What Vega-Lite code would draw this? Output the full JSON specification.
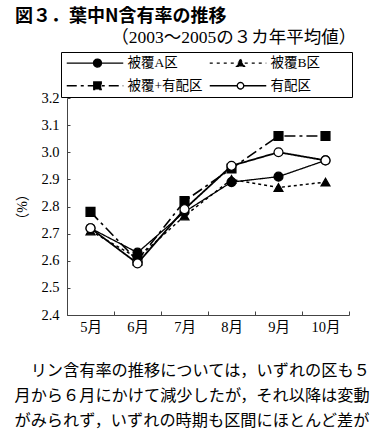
{
  "$schema": "https://vega.github.io/schema/vega-lite/v6.json",
  "width": 282,
  "height": 217,
  "autosize": {"type": "none"},
  "padding": {"left": 67, "top": 98, "right": 36, "bottom": 124},
  "background": "white",
  "title": {
    "text": "図３．葉中N含有率の推移",
    "subtitle": "\u200b　　　　　　（2003～2005の３カ年平均値）",
    "anchor": "start",
    "frame": "group",
    "orient": "top",
    "dx": -52,
    "dy": -1,
    "font": "Noto Sans CJK JP",
    "fontSize": 18,
    "fontWeight": "bold",
    "color": "black",
    "subtitleFont": "Liberation Serif, Noto Sans CJK JP",
    "subtitleFontSize": 17.5,
    "subtitleColor": "black",
    "subtitlePadding": 3
  },
  "config": {
    "view": {"stroke": null},
    "axis": {
      "grid": false,
      "domainColor": "#444",
      "domainWidth": 1,
      "tickColor": "#444",
      "tickWidth": 1,
      "labelFont": "Liberation Serif, Noto Sans CJK JP",
      "labelFontSize": 14.5,
      "labelColor": "black",
      "titleColor": "black"
    }
  },
  "data": {
    "values": [
      {"month": "5月", "series": "被覆A区", "value": 2.72},
      {"month": "6月", "series": "被覆A区", "value": 2.63},
      {"month": "7月", "series": "被覆A区", "value": 2.78},
      {"month": "8月", "series": "被覆A区", "value": 2.89},
      {"month": "9月", "series": "被覆A区", "value": 2.91},
      {"month": "10月", "series": "被覆A区", "value": 2.97},
      {"month": "5月", "series": "被覆B区", "value": 2.71},
      {"month": "6月", "series": "被覆B区", "value": 2.61},
      {"month": "7月", "series": "被覆B区", "value": 2.765},
      {"month": "8月", "series": "被覆B区", "value": 2.90},
      {"month": "9月", "series": "被覆B区", "value": 2.87},
      {"month": "10月", "series": "被覆B区", "value": 2.89},
      {"month": "5月", "series": "被覆+有配区", "value": 2.78},
      {"month": "6月", "series": "被覆+有配区", "value": 2.60},
      {"month": "7月", "series": "被覆+有配区", "value": 2.82},
      {"month": "8月", "series": "被覆+有配区", "value": 2.94},
      {"month": "9月", "series": "被覆+有配区", "value": 3.06},
      {"month": "10月", "series": "被覆+有配区", "value": 3.06},
      {"month": "5月", "series": "有配区", "value": 2.72},
      {"month": "6月", "series": "有配区", "value": 2.59},
      {"month": "7月", "series": "有配区", "value": 2.79},
      {"month": "8月", "series": "有配区", "value": 2.95},
      {"month": "9月", "series": "有配区", "value": 3.00},
      {"month": "10月", "series": "有配区", "value": 2.97}
    ]
  },
  "encoding": {
    "x": {
      "field": "month",
      "type": "nominal",
      "scale": {"type": "band", "domain": ["5月", "6月", "7月", "8月", "9月", "10月"], "paddingInner": 0, "paddingOuter": 0},
      "axis": {
        "labelAngle": 0,
        "tickBand": "extent",
        "tickSize": -4,
        "labelPadding": 9,
        "title": ["\u200b　リン含有率の推移については，いずれの区も５", "月から６月にかけて減少したが，それ以降は変動", "がみられず，いずれの時期も区間にほとんど差が"],
        "titleFont": "Noto Sans CJK JP",
        "titleFontSize": 16.2,
        "titleFontWeight": "normal",
        "titleLineHeight": 25,
        "titleAlign": "left",
        "titleBaseline": "top",
        "titleAnchor": "start",
        "titleX": -53,
        "titleY": 47
      }
    },
    "y": {
      "field": "value",
      "type": "quantitative",
      "scale": {"domain": [2.4, 3.2], "zero": false, "nice": false},
      "axis": {
        "values": [2.4, 2.5, 2.6, 2.7, 2.8, 2.9, 3.0, 3.1, 3.2],
        "format": ".1f",
        "tickSize": -3,
        "labelPadding": 11,
        "labelAlign": "right",
        "title": "（%）",
        "titleFont": "Liberation Serif, Noto Sans CJK JP",
        "titleFontSize": 14,
        "titleFontWeight": "normal",
        "titleX": -45,
        "titleBaseline": "middle"
      }
    }
  },
  "layer": [
    {
      "mark": {"type": "line", "color": "black"},
      "encoding": {
        "detail": {"field": "series"},
        "strokeDash": {
          "field": "series", "type": "nominal",
          "scale": {"domain": ["被覆A区", "被覆B区", "被覆+有配区", "有配区"], "range": [[1, 0], [3, 3], [11, 4, 3, 4], [1, 0]]},
          "legend": null
        },
        "strokeWidth": {
          "field": "series", "type": "ordinal",
          "scale": {"domain": ["被覆A区", "被覆B区", "被覆+有配区", "有配区"], "range": [1.3, 1.8, 2, 1.3]},
          "legend": null
        }
      }
    },
    {
      "mark": {"type": "point", "filled": true, "stroke": "black", "strokeWidth": 1.2, "size": 80, "opacity": 1},
      "encoding": {
        "shape": {
          "field": "series", "type": "nominal",
          "scale": {"domain": ["被覆A区", "被覆B区", "被覆+有配区", "有配区"], "range": ["circle", "triangle-up", "square", "circle"]},
          "legend": null
        },
        "fill": {
          "field": "series", "type": "nominal",
          "scale": {"domain": ["被覆A区", "被覆B区", "被覆+有配区", "有配区"], "range": ["black", "black", "black", "white"]},
          "legend": null
        }
      }
    },
    {
      "mark": {"type": "point", "filled": true, "strokeWidth": 1.3, "size": 81, "opacity": 0},
      "encoding": {
        "shape": {
          "field": "series", "type": "nominal",
          "scale": {"domain": ["被覆A区", "被覆B区", "被覆+有配区", "有配区"], "range": [
            "M-1,0L10.3,0M4.35,0A0.8,0.8,0,1,0,5.95,0A0.8,0.8,0,1,0,4.35,0Z",
            "M-1,0L10.3,0M5.15,-0.8L5.95,0.65L4.35,0.65Z",
            "M-1,0L10.3,0M4.4,-0.75L5.9,-0.75L5.9,0.75L4.4,0.75Z",
            "M-1,0L4.5,0M5.8,0L10.3,0M4.5,0A0.65,0.65,0,1,0,5.8,0A0.65,0.65,0,1,0,4.5,0Z"
          ]},
          "legend": {
            "title": null,
            "orient": "none",
            "legendX": -6,
            "legendY": -46,
            "direction": "horizontal",
            "columns": 2,
            "strokeColor": "black",
            "padding": 4,
            "columnPadding": 4,
            "rowPadding": 8,
            "labelOffset": 49,
            "labelFont": "Liberation Serif, Noto Sans CJK JP",
            "labelFontSize": 13.5,
            "labelColor": "black",
            "labelLimit": 0,
            "symbolOpacity": 1,
            "symbolStrokeWidth": 1.3,
            "labelExpr": "datum.label == '被覆B区' || datum.label == '有配区' ? datum.label + '　　\u200b' : datum.label"
          }
        },
        "stroke": {
          "field": "series", "type": "nominal",
          "scale": {"domain": ["被覆A区", "被覆B区", "被覆+有配区", "有配区"], "range": ["black", "black", "black", "black"]}
        },
        "strokeDash": {
          "field": "series", "type": "nominal",
          "scale": {"domain": ["被覆A区", "被覆B区", "被覆+有配区", "有配区"], "range": [[1, 0], [3, 4], [10, 4, 3, 4], [1, 0]]}
        },
        "fill": {
          "field": "series", "type": "nominal",
          "scale": {"domain": ["被覆A区", "被覆B区", "被覆+有配区", "有配区"], "range": ["black", "black", "black", "white"]}
        }
      }
    }
  ],
  "resolve": {
    "scale": {"shape": "independent", "strokeDash": "independent", "fill": "independent", "stroke": "independent"}
  }
}
